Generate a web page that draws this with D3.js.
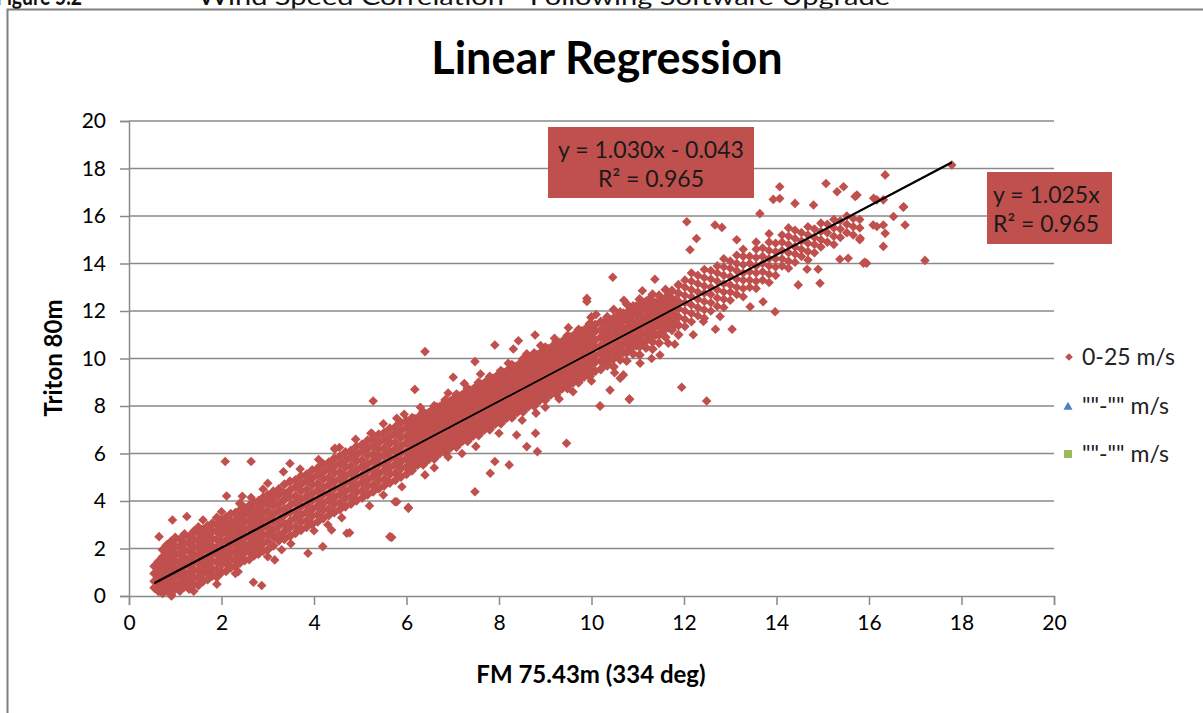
<!DOCTYPE html>
<html>
<head>
<meta charset="utf-8">
<script src="https://cdn.jsdelivr.net/npm/d3@7"></script>
<style>
  body { margin: 0; background: #fff; }
  svg { display: block; }
  text { font-family: Lato, "Open Sans", sans-serif; }
</style>
</head>
<body>
<div id="chart"></div>
<script>
// tick values for both axes
var xTicks = [0, 2, 4, 6, 8, 10, 12, 14, 16, 18, 20];
var yTicks = [0, 2, 4, 6, 8, 10, 12, 14, 16, 18, 20];

// legend entries
var seriesNames = ["0-25 m/s", "\"\"-\"\" m/s", "\"\"-\"\" m/s"];

// trendlines shown in the labels
var trendA = { slope: 1.030, intercept: -0.043, r2: 0.965 };
var trendB = { slope: 1.025, intercept: 0, r2: 0.965 };

// dense core of the cloud, read column by column: [x, [y values]]
var coreLow = [
  [0.55,[0.35,0.62,0.95,1.25]],
  [0.64,[0.2,0.5,0.8,1.12,1.45]],
  [0.73,[0.12,0.42,0.7,1.0,1.33,1.65,1.95]],
  [0.82,[0.28,0.6,0.9,1.2,1.5,1.85,2.15]],
  [0.91,[0.05,0.4,0.72,1.05,1.38,1.7,2.0,2.3]],
  [1.0,[0.3,0.58,0.88,1.18,1.5,1.8,2.12,2.45]],
  [1.1,[0.22,0.5,0.82,1.12,1.42,1.75,2.05,2.38]],
  [1.2,[0.4,0.7,1.0,1.32,1.62,1.95,2.25,2.6]],
  [1.3,[0.3,0.62,0.92,1.25,1.55,1.88,2.2,2.5]],
  [1.4,[0.5,0.8,1.12,1.45,1.75,2.08,2.4,2.72]],
  [1.5,[0.45,0.75,1.05,1.38,1.7,2.0,2.32,2.65,2.9]],
  [1.6,[0.62,0.95,1.25,1.58,1.9,2.2,2.52,2.8]],
  [1.7,[0.7,1.02,1.35,1.65,1.98,2.3,2.6,2.95]],
  [1.8,[0.85,1.15,1.48,1.8,2.1,2.42,2.75,3.05]],
  [1.9,[0.8,1.1,1.42,1.75,2.05,2.38,2.7,3.0,3.3]],
  [2.0,[1.0,1.32,1.62,1.95,2.28,2.6,2.9,3.2]],
  [2.1,[1.05,1.4,1.72,2.02,2.35,2.68,3.0,3.32]],
  [2.2,[1.2,1.5,1.82,2.15,2.45,2.78,3.1,3.45]],
  [2.3,[1.25,1.58,1.9,2.22,2.55,2.88,3.2,3.5]],
  [2.4,[1.4,1.7,2.02,2.35,2.68,3.0,3.3,3.62,3.9]],
  [2.5,[1.5,1.82,2.12,2.45,2.78,3.1,3.42,3.72]],
  [2.6,[1.55,1.88,2.2,2.52,2.85,3.18,3.5,3.8]],
  [2.7,[1.7,2.0,2.32,2.65,2.98,3.3,3.6,3.95]],
  [2.8,[1.78,2.1,2.42,2.75,3.08,3.4,3.72,4.0]],
  [2.9,[1.9,2.22,2.55,2.88,3.2,3.52,3.85,4.15]],
  [3.0,[1.95,2.3,2.62,2.95,3.28,3.6,3.92,4.25]]
];

var coreMid = [
  [3.12,[2.12,2.5,2.78,3.15,3.43,3.8,4.08,4.4]],
  [3.24,[2.33,2.58,2.95,3.22,3.6,3.88,4.25,4.5]],
  [3.36,[2.4,2.72,3.03,3.4,3.68,4.05,4.33,4.7]],
  [3.48,[2.52,2.88,3.15,3.52,3.8,4.17,4.45,4.82]],
  [3.6,[2.65,2.93,3.3,3.58,3.95,4.22,4.6,4.88]],
  [3.72,[2.78,3.12,3.4,3.77,4.05,4.42,4.7,5.05]],
  [3.84,[2.9,3.18,3.55,3.83,4.2,4.48,4.85,5.12]],
  [3.96,[3.02,3.37,3.65,4.02,4.3,4.67,4.95,5.3]],
  [4.08,[3.13,3.43,3.8,4.08,4.45,4.73,5.1,5.38]],
  [4.2,[3.27,3.62,3.9,4.27,4.55,4.92,5.2,5.55]],
  [4.32,[3.4,3.68,4.05,4.33,4.7,4.98,5.35,5.62]],
  [4.44,[3.52,3.87,4.15,4.52,4.8,5.17,5.45,5.8]],
  [4.56,[3.65,3.93,4.3,4.58,4.95,5.23,5.6,5.88]],
  [4.68,[3.77,4.12,4.4,4.77,5.05,5.42,5.7,6.05]],
  [4.8,[3.88,4.18,4.55,4.83,5.2,5.48,5.85,6.12]],
  [4.92,[4.02,4.37,4.65,5.02,5.3,5.67,5.95,6.3]],
  [5.04,[4.13,4.43,4.8,5.08,5.45,5.73,6.1,6.38]],
  [5.16,[4.27,4.62,4.9,5.27,5.55,5.92,6.2,6.55]],
  [5.28,[4.4,4.68,5.05,5.33,5.7,5.98,6.35,6.62]],
  [5.4,[4.52,4.87,5.15,5.52,5.8,6.17,6.45,6.8]],
  [5.52,[4.65,4.93,5.3,5.58,5.95,6.23,6.6,6.88]],
  [5.64,[4.77,5.12,5.4,5.77,6.05,6.42,6.7,7.05]],
  [5.76,[4.88,5.18,5.55,5.83,6.2,6.48,6.85,7.12]],
  [5.88,[5.02,5.37,5.65,6.02,6.3,6.67,6.95,7.3]],
  [6.0,[5.13,5.43,5.8,6.08,6.45,6.73,7.1,7.38]]
];

var coreHigh = [
  [6.12,[5.28,5.57,5.93,6.22,6.58,6.87,7.24,7.5]],
  [6.24,[5.52,5.89,6.17,6.54,6.83,7.19,7.47]],
  [6.36,[5.53,5.82,6.18,6.47,6.83,7.12,7.49,7.75]],
  [6.48,[5.76,6.13,6.41,6.78,7.07,7.43,7.71]],
  [6.6,[5.78,6.07,6.43,6.72,7.08,7.37,7.74,8.0]],
  [6.72,[6.01,6.38,6.66,7.03,7.32,7.68,7.96]],
  [6.84,[6.03,6.32,6.68,6.97,7.33,7.62,7.99,8.25]],
  [6.96,[6.26,6.63,6.91,7.28,7.57,7.93,8.21]],
  [7.08,[6.27,6.56,6.92,7.21,7.57,7.86,8.23,8.49]],
  [7.2,[6.51,6.88,7.16,7.53,7.82,8.18,8.46]],
  [7.32,[6.52,6.81,7.17,7.46,7.82,8.11,8.48,8.74]],
  [7.44,[6.75,7.12,7.4,7.77,8.06,8.42,8.7]],
  [7.56,[6.77,7.06,7.42,7.71,8.07,8.36,8.73,8.99]],
  [7.68,[7.0,7.37,7.65,8.02,8.31,8.67,8.95]],
  [7.8,[7.01,7.3,7.66,7.95,8.31,8.6,8.97,9.23]],
  [7.92,[7.25,7.62,7.9,8.27,8.56,8.92,9.2]],
  [8.04,[7.26,7.55,7.91,8.2,8.56,8.85,9.22,9.48]],
  [8.16,[7.49,7.86,8.14,8.51,8.8,9.16,9.44]],
  [8.28,[7.51,7.8,8.16,8.45,8.81,9.1,9.47,9.73]],
  [8.4,[7.74,8.11,8.39,8.76,9.05,9.41,9.69]],
  [8.52,[7.76,8.05,8.41,8.7,9.06,9.35,9.72,9.98]],
  [8.64,[7.99,8.36,8.64,9.01,9.3,9.66,9.94]],
  [8.76,[8.0,8.29,8.65,8.94,9.3,9.59,9.96,10.22]],
  [8.88,[8.24,8.61,8.89,9.26,9.55,9.91,10.19]],
  [9.0,[8.25,8.54,8.9,9.19,9.55,9.84,10.21,10.47]],
  [9.12,[8.48,8.85,9.13,9.5,9.79,10.15,10.43]],
  [9.24,[8.5,8.79,9.15,9.44,9.8,10.09,10.46,10.72]],
  [9.36,[8.73,9.1,9.38,9.75,10.04,10.4,10.68]],
  [9.48,[8.74,9.03,9.39,9.68,10.04,10.33,10.7,10.96]],
  [9.6,[8.98,9.35,9.63,10.0,10.29,10.65,10.93]],
  [9.72,[8.99,9.28,9.64,9.93,10.29,10.58,10.95,11.21]],
  [9.84,[9.23,9.6,9.88,10.25,10.54,10.9,11.18]],
  [9.96,[9.24,9.53,9.89,10.18,10.54,10.83,11.2,11.46]],
  [10.08,[9.47,9.84,10.12,10.49,10.78,11.14,11.42]]
];

// extra readings between the columns above where the band is solid
var coreFill = [
  [6.06,[5.4,5.75,6.05,6.4,6.7,7.05,7.35]],
  [6.18,[5.5,5.8,6.15,6.5,6.8,7.1,7.45]],
  [6.3,[5.65,5.95,6.3,6.6,6.95,7.25,7.6]],
  [6.42,[5.7,6.05,6.4,6.7,7.0,7.35,7.65]],
  [6.54,[5.9,6.2,6.55,6.85,7.2,7.5,7.8]],
  [6.66,[5.95,6.3,6.65,6.95,7.3,7.6,7.95]],
  [6.78,[6.15,6.45,6.8,7.1,7.4,7.75,8.05]],
  [6.9,[6.2,6.55,6.9,7.2,7.55,7.85,8.15]],
  [7.02,[6.4,6.7,7.05,7.35,7.65,8.0,8.3]],
  [7.14,[6.45,6.8,7.15,7.45,7.8,8.1,8.4]],
  [7.26,[6.65,6.95,7.3,7.6,7.9,8.25,8.55]],
  [7.38,[6.7,7.05,7.4,7.7,8.05,8.35,8.65]],
  [7.5,[6.9,7.2,7.55,7.85,8.15,8.5,8.8]],
  [7.62,[6.95,7.3,7.65,7.95,8.3,8.6,8.9]],
  [7.74,[7.15,7.45,7.8,8.1,8.4,8.75,9.05]],
  [7.86,[7.2,7.55,7.9,8.2,8.55,8.85,9.15]],
  [7.98,[7.4,7.7,8.05,8.35,8.65,9.0,9.3]],
  [8.1,[7.45,7.8,8.15,8.45,8.8,9.1,9.4]],
  [8.22,[7.65,7.95,8.3,8.6,8.9,9.25,9.55]],
  [8.34,[7.7,8.05,8.4,8.7,9.05,9.35,9.65]],
  [8.46,[7.9,8.2,8.55,8.85,9.15,9.5,9.8]],
  [8.58,[7.95,8.3,8.65,8.95,9.3,9.6,9.9]],
  [8.7,[8.15,8.45,8.8,9.1,9.4,9.75,10.05]],
  [8.82,[8.2,8.55,8.9,9.2,9.55,9.85,10.15]],
  [8.94,[8.4,8.7,9.05,9.35,9.65,10.0,10.3]],
  [9.06,[8.45,8.8,9.15,9.45,9.8,10.1,10.4]],
  [9.18,[8.65,8.95,9.3,9.6,9.9,10.25,10.55]],
  [9.3,[8.7,9.05,9.4,9.7,10.05,10.35,10.65]],
  [9.42,[8.9,9.2,9.55,9.85,10.15,10.5,10.8]],
  [9.54,[8.95,9.3,9.65,9.95,10.3,10.6,10.9]],
  [9.66,[9.15,9.45,9.8,10.1,10.4,10.75,11.05]],
  [9.78,[9.2,9.55,9.9,10.2,10.55,10.85,11.15]],
  [9.9,[9.4,9.7,10.05,10.35,10.65,11.0,11.3]],
  [10.02,[9.45,9.8,10.15,10.45,10.8,11.1,11.4]],
  [10.27,[9.85,10.2,10.5,10.85,11.15,11.5]],
  [10.41,[9.95,10.3,10.65,10.95,11.3,11.6]],
  [10.55,[10.1,10.45,10.8,11.1,11.45,11.75]],
  [10.69,[10.25,10.6,10.95,11.25,11.6,11.9]],
  [10.83,[10.4,10.75,11.1,11.4,11.75,12.05]],
  [10.97,[10.55,10.9,11.25,11.55,11.9,12.2]],
  [11.11,[10.7,11.05,11.4,11.7,12.05,12.35]],
  [11.25,[10.85,11.2,11.55,11.85,12.2,12.5]],
  [11.39,[11.0,11.35,11.7,12.0,12.35]],
  [11.53,[11.15,11.5,11.85,12.15,12.5]],
  [11.67,[11.3,11.65,12.0,12.3,12.65]],
  [11.81,[11.45,11.8,12.15,12.45]]
];

// band between 10 and 12 m/s, still dense
var bandMid = [
  [10.2,[9.55,9.9,10.25,10.55,10.9,11.2,11.55]],
  [10.34,[9.7,10.05,10.4,10.7,11.05,11.4,11.75]],
  [10.48,[9.65,10.0,10.35,10.7,11.0,11.35,11.7,12.05]],
  [10.62,[9.95,10.3,10.6,10.95,11.3,11.6,11.95]],
  [10.76,[9.9,10.25,10.6,10.9,11.25,11.6,11.9,12.3]],
  [10.9,[10.2,10.55,10.85,11.2,11.5,11.85,12.2]],
  [11.04,[10.15,10.5,10.8,11.15,11.5,11.8,12.15,12.5]],
  [11.18,[10.45,10.75,11.1,11.45,11.75,12.1,12.4]],
  [11.32,[10.4,10.7,11.05,11.4,11.7,12.05,12.4,12.7]],
  [11.46,[10.65,11.0,11.35,11.65,12.0,12.3,12.65]],
  [11.6,[10.9,11.25,11.6,11.9,12.25,12.55,12.9]],
  [11.74,[11.2,11.5,11.85,12.15,12.5,12.85]],
  [11.88,[11.0,11.4,11.75,12.1,12.4,12.75,13.1]]
];

// thinner band above 12 m/s
var bandTop = [
  [12.02,[11.35,11.65,12.0,12.35,12.65,13.0,13.3]],
  [12.16,[11.55,11.9,12.25,12.6,12.9,13.25,13.6]],
  [12.3,[11.8,12.15,12.5,12.8,13.15,13.5]],
  [12.44,[11.7,12.05,12.4,12.75,13.05,13.4,13.75]],
  [12.58,[12.0,12.35,12.7,13.0,13.35,13.7]],
  [12.72,[12.2,12.55,12.9,13.25,13.6,13.9]],
  [12.86,[12.15,12.5,12.8,13.15,13.5,13.85,14.2]],
  [13.0,[12.45,12.8,13.1,13.45,13.8,14.1]],
  [13.14,[12.7,13.0,13.35,13.7,14.0,14.35]],
  [13.28,[12.6,12.95,13.3,13.6,13.95,14.3,14.6]],
  [13.42,[13.0,13.3,13.65,14.0,14.3]],
  [13.56,[12.95,13.25,13.6,13.9,14.25,14.6,14.9]],
  [13.7,[13.3,13.65,14.0,14.3,14.65]],
  [13.84,[13.2,13.55,13.9,14.2,14.55,14.9,15.25]],
  [13.98,[13.5,13.85,14.2,14.5,14.85]],
  [14.12,[13.9,14.2,14.55,14.9,15.2]],
  [14.26,[13.8,14.1,14.45,14.8,15.15,15.5]],
  [14.4,[14.05,14.4,14.7,15.05,15.4]],
  [14.54,[14.3,14.6,14.95,15.3]],
  [14.68,[14.15,14.5,14.85,15.2,15.55]],
  [14.82,[14.45,14.8,15.1,15.45]],
  [14.96,[14.7,15.0,15.35,15.7]],
  [15.1,[14.9,15.3,15.65]],
  [15.24,[14.8,15.15,15.5,15.85]],
  [15.38,[15.1,15.45,15.8]],
  [15.52,[15.3,15.65,16.0]],
  [15.66,[15.2,15.55,15.9]],
  [15.8,[15.5,15.85]]
];

// ragged edges of the band
var edgePoints = [
  [1.6,3.2],[2.0,3.55],[2.45,4.2],[2.9,4.5],[3.7,5.35],[4.1,5.75],[4.9,6.6],[5.5,7.25],
  [6.3,7.95],[6.9,8.55],[7.6,9.35],[8.2,9.8],[8.9,10.55],[9.5,11.3],[10.1,11.85],
  [10.7,12.45],[11.1,12.85],[3.0,4.75],[4.55,6.25],[5.95,7.65],[7.25,8.95],[8.6,10.2],
  [9.2,10.85],[1.4,0.2],[1.9,0.5],[2.3,0.95],[3.0,1.65],[3.5,2.2],[4.0,2.75],[4.6,3.3],
  [5.2,3.8],[5.9,4.6],[6.4,5.1],[6.9,5.85],[7.5,6.3],[8.0,6.85],[8.5,7.4],[9.0,7.95],
  [9.6,8.6],[10.0,9.05],[10.5,9.4],[3.3,1.95],[4.3,3.0],[5.5,4.25],[6.6,5.4],[7.2,6.0],
  [8.8,7.7],[9.3,8.3],[11.3,10.0],[11.8,10.6],[12.2,11.0]
];

// isolated points away from the band
var outliers = [
  [0.65,2.5],[0.94,3.2],[1.25,3.35],[2.08,5.66],[2.64,5.66],[2.11,4.21],[2.64,4.15],
  [0.74,0.18],[0.92,0.0],[2.69,0.58],[2.87,0.44],[2.36,1.02],[5.68,2.47],[6.04,3.73],
  [5.75,3.97],[3.34,5.23],[3.48,5.58],[4.45,6.18],[5.25,6.85],[3.15,1.52],[3.87,1.8],
  [4.19,2.08],[4.77,2.66],
  [6.40,10.29],[5.28,8.21],[7.01,9.21],[7.91,10.57],[8.78,10.99],[8.42,10.75],[8.31,10.4],
  [7.48,9.87],[6.18,8.70],[5.79,7.48],[5.23,6.85],[4.45,6.22],[9.99,11.73],[9.9,12.4],
  [7.48,4.39],[7.81,5.17],[8.22,5.52],[7.91,5.66],[8.6,6.29],[8.83,6.08],[9.46,6.43],
  [8.79,6.85],[8.38,6.78],[10.18,8.0],[10.82,8.29],[5.64,2.5],[6.04,3.69],[5.79,3.97],
  [4.71,2.64],[4.38,2.78],
  [16.35,17.73],[15.07,17.37],[15.45,17.23],[14.07,17.23],[13.93,16.7],[14.07,16.74],
  [14.4,16.53],[12.06,15.76],[12.67,15.62],[12.82,15.52],[12.27,15.05],[10.46,13.42],
  [9.9,12.53],[10.0,11.76],[11.37,13.34],[12.13,14.58],[13.14,15.0],[13.64,16.1],
  [16.75,16.39],[16.78,15.62],[16.53,15.98],[16.31,14.72],[17.21,14.13],[15.91,14.05],
  [15.8,15.0],[16.17,15.56],[16.1,16.75],[15.74,16.88],[15.31,17.02],[14.8,16.46],
  [17.79,18.15],[16.74,16.37],[15.88,14.01],[15.95,14.01],[16.31,15.62],[16.09,15.62],
  [16.35,15.27],[15.81,15.06],[15.7,16.82],[16.17,16.68],[16.31,16.68],
  [12.49,8.21],[11.95,8.79],[10.82,8.28],[10.19,8.0],[13.04,11.23],[12.68,11.23],
  [13.97,11.97],[13.43,12.18],[13.71,12.39],[14.47,13.1],[14.94,13.17],[14.66,13.76],
  [14.9,13.76],[15.37,14.18],[15.55,14.22],[11.66,10.64],[11.48,10.15],[11.05,9.8],
  [10.69,9.31],[10.4,8.67],[10.62,9.17],[12.42,11.56],[12.78,11.77]
];

function unpack(cols) {
  return cols.flatMap(function(c) { return c[1].map(function(v) { return [c[0], v]; }); });
}
var corePoints = unpack(coreLow).concat(unpack(coreMid), unpack(coreHigh), unpack(coreFill), unpack(bandMid));
var loosePoints = unpack(bandTop).concat(edgePoints, outliers);
var points = corePoints.concat(loosePoints);

var W = 1203, H = 713;
var red = "#C0504D", grid = "#8a8a8a";

var svg = d3.select("#chart").append("svg")
  .attr("width", W)
  .attr("height", H);

var x = d3.scaleLinear().domain([0, 20]).range([129, 1054]);
var y = d3.scaleLinear().domain([0, 20]).range([596, 121]);

// caption of the page, cut off at the top as in the source
svg.append("text").attr("x", -4).attr("y", 5)
  .attr("font-size", 24).attr("font-weight", "bold").attr("fill", "#111")
  .attr("textLength", 86).attr("lengthAdjust", "spacingAndGlyphs")
  .text("Figure 5.2");
svg.append("text").attr("x", 198).attr("y", 5)
  .attr("font-size", 24).attr("fill", "#111")
  .attr("textLength", 692).attr("lengthAdjust", "spacingAndGlyphs")
  .text("Wind Speed Correlation - Following Software Upgrade");

// chart frame
svg.append("path")
  .attr("d", "M7.5,713 V9.5 H1203")
  .attr("fill", "none").attr("stroke", "#7f7f7f").attr("stroke-width", 2);

// title
svg.append("text").attr("x", 607).attr("y", 74)
  .attr("text-anchor", "middle").attr("font-size", 45).attr("font-weight", "bold")
  .attr("fill", "#000")
  .text("Linear Regression");

// gridlines
svg.append("g").selectAll("line")
  .data(yTicks.filter(function(d) { return d > 0; }))
  .enter().append("line")
  .attr("x1", x(0)).attr("x2", x(20))
  .attr("y1", function(d) { return y(d); }).attr("y2", function(d) { return y(d); })
  .attr("stroke", grid).attr("stroke-width", 1.5);

// axes
var gx = svg.append("g").attr("transform", "translate(0," + y(0) + ")")
  .call(d3.axisBottom(x).tickValues(xTicks).tickSize(9).tickPadding(10).tickFormat(d3.format("d")));
var gy = svg.append("g").attr("transform", "translate(" + x(0) + ",0)")
  .call(d3.axisLeft(y).tickValues(yTicks).tickSize(9).tickPadding(14).tickFormat(d3.format("d")));
[gx, gy].forEach(function(g) {
  g.select(".domain").attr("stroke", grid).attr("stroke-width", 1.5);
  g.selectAll(".tick line").attr("stroke", grid).attr("stroke-width", 1.5);
  g.selectAll(".tick text").attr("font-family", "Lato, sans-serif").attr("font-size", 21).attr("fill", "#000");
});

// axis titles
svg.append("text").attr("x", 591).attr("y", 683)
  .attr("text-anchor", "middle").attr("font-size", 24).attr("font-weight", "bold")
  .text("FM 75.43m (334 deg)");
svg.append("text")
  .attr("transform", "translate(62,358) rotate(-90)")
  .attr("text-anchor", "middle").attr("font-size", 24).attr("font-weight", "bold")
  .text("Triton 80m");

// data points: diamonds (squares turned 45 degrees)
function drawPoints(data, size) {
  svg.append("g").selectAll("path")
    .data(data)
    .enter().append("path")
    .attr("d", d3.symbol().type(d3.symbolSquare).size(size))
    .attr("transform", function(d) { return "translate(" + x(d[0]) + "," + y(d[1]) + ") rotate(45)"; })
    .attr("fill", red);
}
drawPoints(corePoints, 54);
drawPoints(loosePoints, 46);

// trendlines over the x range of the data
var xr = d3.extent(points, function(d) { return d[0]; });
svg.append("g").selectAll("line")
  .data([trendA, trendB])
  .enter().append("line")
  .attr("x1", x(xr[0])).attr("x2", x(xr[1]))
  .attr("y1", function(t) { return y(t.slope * xr[0] + t.intercept); })
  .attr("y2", function(t) { return y(t.slope * xr[1] + t.intercept); })
  .attr("stroke", "#000").attr("stroke-width", 1.5);

// equation labels
function eqLabel(bx, by, bw, bh, lines, anchor, tx) {
  var g = svg.append("g");
  g.append("rect").attr("x", bx).attr("y", by).attr("width", bw).attr("height", bh).attr("fill", red);
  lines.forEach(function(s, i) {
    g.append("text").attr("x", tx).attr("y", by + 31 + i * 29)
      .attr("text-anchor", anchor).attr("font-size", 23).attr("fill", "#1a1a1a")
      .text(s);
  });
}
function fmtEq(t) {
  var s = "y = " + t.slope.toFixed(3) + "x";
  if (t.intercept < 0) s += " - " + Math.abs(t.intercept).toFixed(3);
  else if (t.intercept > 0) s += " + " + t.intercept.toFixed(3);
  return s;
}
eqLabel(548, 127, 206, 71, [fmtEq(trendA), "R\u00b2 = " + trendA.r2.toFixed(3)], "middle", 651);
eqLabel(987, 172, 125, 72, [fmtEq(trendB), "R\u00b2 = " + trendB.r2.toFixed(3)], "start", 993);

// legend
var legY = [357, 406, 454];
var leg = svg.append("g");
leg.append("path").attr("d", d3.symbol().type(d3.symbolSquare).size(30))
  .attr("transform", "translate(1069," + legY[0] + ") rotate(45)").attr("fill", red);
leg.append("path").attr("d", d3.symbol().type(d3.symbolTriangle).size(36))
  .attr("transform", "translate(1068," + (legY[1] + 1) + ")").attr("fill", "#4F81BD");
leg.append("rect").attr("x", 1064).attr("y", legY[2] - 4).attr("width", 8).attr("height", 8).attr("fill", "#9BBB59");
leg.selectAll("text").data(seriesNames).enter().append("text")
  .attr("x", 1082).attr("y", function(d, i) { return legY[i] + 8; })
  .attr("font-size", 23).attr("fill", "#222")
  .text(function(d) { return d; });
</script>
</body>
</html>
